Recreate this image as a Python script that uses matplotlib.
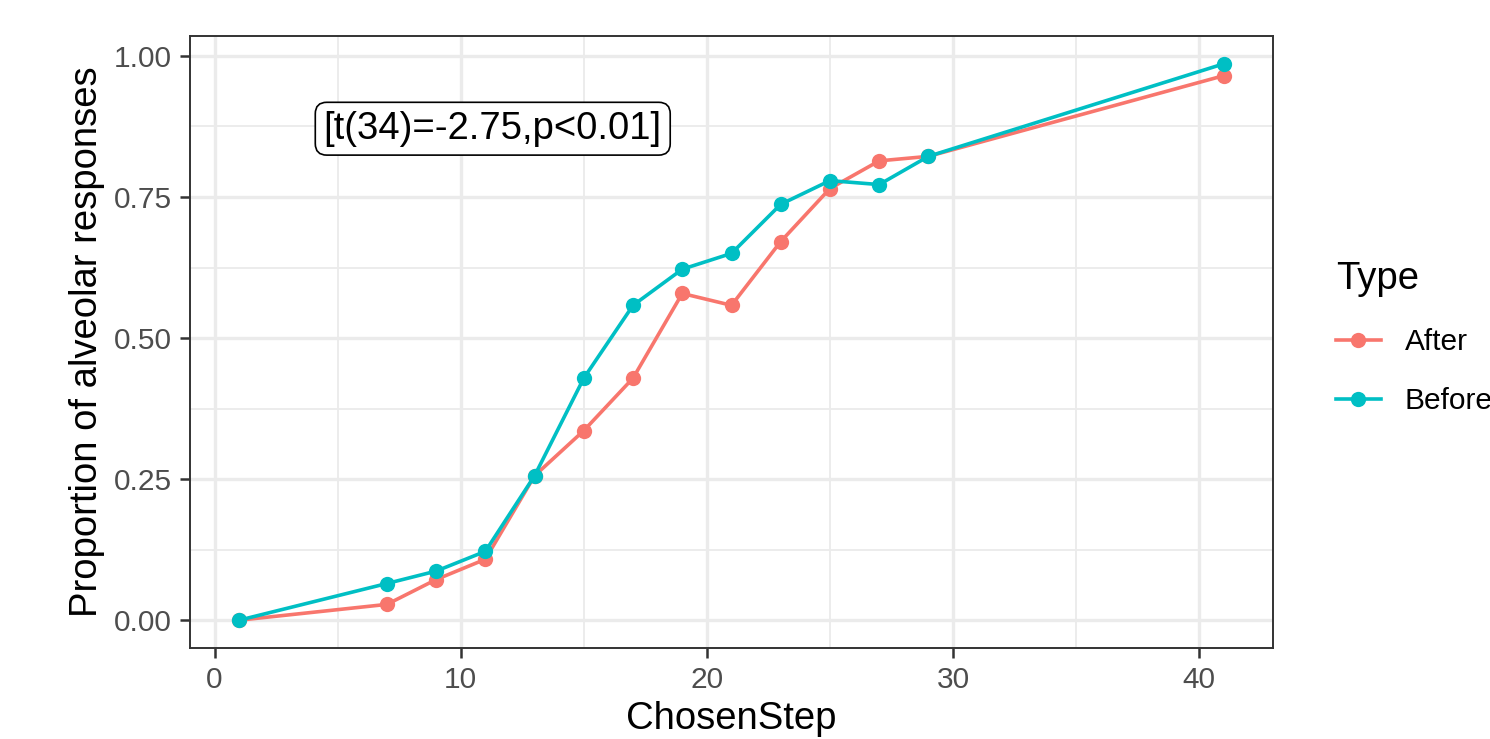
import matplotlib
matplotlib.use("Agg")
import matplotlib.pyplot as plt
from matplotlib.ticker import MultipleLocator

plt.rcParams['font.family'] = ['Liberation Sans', 'DejaVu Sans']

steps = [1, 7, 9, 11, 13, 15, 17, 19, 21, 23, 25, 27, 29, 41]
after = [0.0, 0.028, 0.072, 0.108, 0.256, 0.336, 0.429, 0.579, 0.558, 0.671, 0.765, 0.814, 0.822, 0.965]
before = [0.0, 0.065, 0.087, 0.122, 0.256, 0.429, 0.558, 0.622, 0.650, 0.737, 0.779, 0.772, 0.822, 0.986]
series_names = ["After", "Before"]
series_colors = ["#F8766D", "#00BFC4"]
x_ticks = [0, 10, 20, 30, 40]
y_ticks = [0.0, 0.25, 0.5, 0.75, 1.0]
y_ticklabels = ["0.00", "0.25", "0.50", "0.75", "1.00"]
annotation = "[t(34)=-2.75,p<0.01]"

fig = plt.figure(figsize=(14.9, 7.39), dpi=100)
ax = fig.add_axes([190/1490, 1-648/739, (1273-190)/1490, (648-36)/739])

for name, vals, col in zip(series_names, [after, before], series_colors):
    ax.plot(steps, vals, color=col, lw=2.6, marker='o', markersize=11,
            markeredgewidth=0, label=name, zorder=3)

ax.set_xlim(-1, 43)
ax.set_ylim(-0.0493, 1.0353)
ax.set_xticks(x_ticks)
ax.set_yticks(y_ticks)
ax.set_yticklabels(y_ticklabels)
ax.xaxis.set_minor_locator(MultipleLocator(5))
ax.yaxis.set_minor_locator(MultipleLocator(0.125))
ax.grid(True, which='major', color='#EBEBEB', lw=2.4, zorder=0)
ax.grid(True, which='minor', color='#EBEBEB', lw=1.3, zorder=0)
ax.set_axisbelow(True)
ax.tick_params(which='minor', length=0)
ax.tick_params(which='major', length=7.5, width=1.8, color='#333333',
               labelsize=21.5, labelcolor='#4D4D4D', pad=5.5)
for s in ax.spines.values():
    s.set_color('#333333')
    s.set_linewidth(1.4)

ax.set_xlabel("ChosenStep", fontsize=27.5, labelpad=5)
ax.set_ylabel("Proportion of alveolar responses", fontsize=27.5, labelpad=6)

ax.text(11.3, 0.871, annotation, fontsize=27.5, ha='center', va='center',
        bbox=dict(boxstyle='round,pad=0.22,rounding_size=0.3', fc='white', ec='black', lw=1.2),
        zorder=4)

leg = ax.legend(loc='upper left', bbox_to_anchor=(1.058, 0.633), frameon=False,
                title="Type", title_fontsize=27.5, fontsize=21.5, handlelength=1.5,
                labelspacing=1.05, handletextpad=0.8, borderpad=0, borderaxespad=0)
leg._legend_box.align = "left"

fig.savefig("out.png", dpi=100)
